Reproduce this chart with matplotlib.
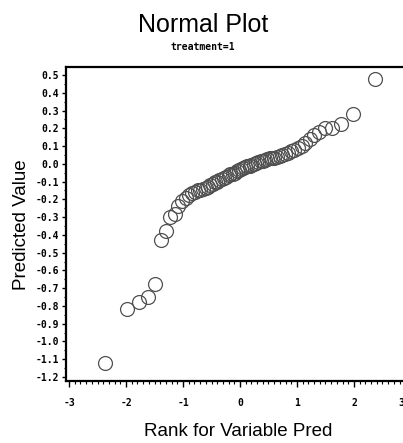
import matplotlib
matplotlib.use('Agg')
import matplotlib.pyplot as plt
from matplotlib.ticker import MultipleLocator, FuncFormatter
import matplotlib.transforms as mtransforms

plt.rcParams['axes.unicode_minus'] = False

# normal scores (rank for variable Pred)
rank = [-2.36, -1.98, -1.77, -1.62, -1.49, -1.39, -1.30, -1.22, -1.14, -1.08,
        -1.01, -0.95, -0.90, -0.84, -0.79, -0.74, -0.70, -0.65, -0.60, -0.56,
        -0.52, -0.48, -0.44, -0.40, -0.36, -0.32, -0.28, -0.24, -0.20, -0.17,
        -0.13, -0.09, -0.06, -0.02, 0.02, 0.06, 0.09, 0.13, 0.17, 0.20,
        0.24, 0.28, 0.32, 0.36, 0.40, 0.44, 0.48, 0.52, 0.56, 0.60,
        0.65, 0.70, 0.74, 0.79, 0.84, 0.90, 0.95, 1.01, 1.08, 1.14,
        1.22, 1.30, 1.39, 1.49, 1.62, 1.77, 1.98, 2.36]

# predicted values
pred = [-1.12, -0.82, -0.78, -0.75, -0.675, -0.43, -0.38, -0.30, -0.28, -0.24,
        -0.21, -0.19, -0.175, -0.165, -0.16, -0.15, -0.145, -0.14, -0.135, -0.13,
        -0.12, -0.115, -0.105, -0.10, -0.09, -0.085, -0.08, -0.075, -0.065, -0.06,
        -0.055, -0.05, -0.04, -0.035, -0.03, -0.025, -0.02, -0.015, -0.01, -0.005,
        0.0, 0.005, 0.01, 0.015, 0.015, 0.02, 0.025, 0.03, 0.03, 0.035,
        0.04, 0.045, 0.05, 0.055, 0.06, 0.07, 0.08, 0.09, 0.10, 0.12,
        0.14, 0.16, 0.18, 0.20, 0.20, 0.225, 0.28, 0.48]

fig = plt.figure(figsize=(4.03, 4.43), dpi=100)
ax = fig.add_axes([66/403, 62/443, 348/403, 314/443])

ax.plot(rank, pred, linestyle='none', marker='o', markersize=10,
        markerfacecolor='none', markeredgecolor='#505050', markeredgewidth=0.9)

ax.set_xlim(-3.053, 3.053)
ax.set_ylim(-1.2225, 0.545)

ax.xaxis.set_major_locator(MultipleLocator(1))
ax.xaxis.set_minor_locator(MultipleLocator(0.1))
ax.yaxis.set_major_locator(MultipleLocator(0.1))
ax.yaxis.set_minor_locator(MultipleLocator(0.05))
ax.yaxis.set_major_formatter(FuncFormatter(lambda v, p: '%.1f' % (round(v, 1) + 0.0)))
ax.xaxis.set_major_formatter(FuncFormatter(lambda v, p: '%d' % round(v)))

ax.tick_params(axis='x', which='major', direction='out', length=4, width=1, pad=8,
               labelsize=7)
ax.tick_params(axis='x', which='minor', direction='out', length=2, width=0.8)
ax.tick_params(axis='y', which='major', direction='out', length=3, width=1, pad=2,
               labelsize=7)
ax.tick_params(axis='y', which='minor', direction='out', length=1.5, width=0.8)

fig.canvas.draw()
for lab in ax.get_xticklabels() + ax.get_yticklabels():
    lab.set_fontfamily('DejaVu Sans Mono')
    lab.set_fontweight('bold')

# keep the "3" at the right edge inside the picture
shift = mtransforms.ScaledTranslation(-10/100, 0, fig.dpi_scale_trans)
for lab in ax.get_xticklabels():
    if lab.get_text() == '3':
        lab.set_transform(lab.get_transform() + shift)

for s in ['left', 'bottom', 'top', 'right']:
    ax.spines[s].set_linewidth(1.6)

fig.text(0.504, 1 - 25/443, 'Normal Plot', ha='center', va='center',
         fontsize=18, family='Liberation Sans')
fig.text(0.504, 1 - 47/443, 'treatment=1', ha='center', va='center',
         fontsize=7, family='DejaVu Sans Mono', weight='bold')
fig.text(238/403, 1 - 431/443, 'Rank for Variable Pred', ha='center', va='center',
         fontsize=13.5, family='Liberation Sans')
fig.text(22/403, 1 - 225/443, 'Predicted Value', ha='center', va='center',
         rotation=90, fontsize=13.5, family='Liberation Sans')

fig.savefig('out.png', dpi=100)
